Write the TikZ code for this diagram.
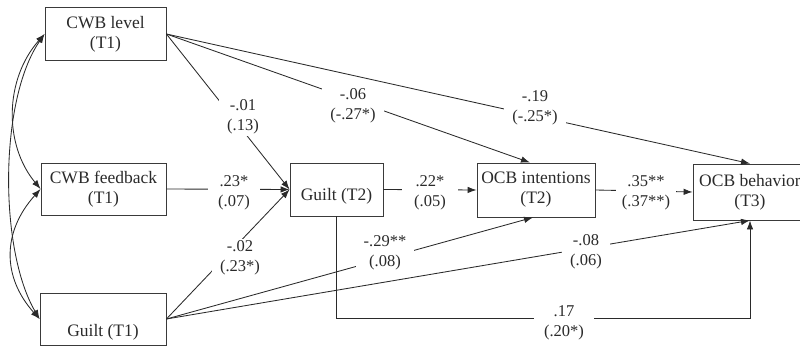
\documentclass[tikz,border=0pt]{standalone}
\usepackage{fontspec}
\setmainfont{Liberation Serif}
\usetikzlibrary{arrows.meta,calc}
\definecolor{ink}{HTML}{2A2A2A}
\definecolor{frame}{HTML}{3A3A3A}
\newcommand{\boxfont}{\fontsize{17.5}{20}\selectfont}
\newcommand{\coeffont}{\fontsize{16.5}{19.5}\selectfont}
\begin{document}
\begin{tikzpicture}[x=1pt,y=-1pt,
  box/.style={draw=frame, line width=0.85pt, inner xsep=1pt, align=center, font=\boxfont, text=ink},
  coef/.style={fill=white, align=center, font=\coeffont, inner xsep=8pt, inner ysep=2pt, text=ink},
  pth/.style={draw=ink, line width=0.85pt, -{Latex[length=9pt,width=6.5pt]}},
  cov/.style={draw=ink, line width=0.85pt, {Latex[length=9pt,width=6.5pt]}-{Latex[length=9pt,width=6.5pt]}}]
\useasboundingbox (0,0) rectangle (800,350);
\node[box, minimum width=121pt, minimum height=53pt] (cwbl) at (105.5,34) {CWB level\\(T1)};
\node[box, minimum width=125pt, minimum height=52pt] (cwbf) at (103.5,189) {CWB feedback\\(T1)};
\node[box, minimum width=126pt, minimum height=52pt, text height=34pt, text depth=0pt] (g1) at (103,319) {Guilt (T1)};
\node[box, minimum width=93pt, minimum height=53pt, text height=21pt, text depth=0pt] (g2) at (336.5,189.5) {Guilt (T2)};
\node[box, minimum width=118pt, minimum height=54pt] (ocbi) at (536,190) {OCB intentions\\(T2)};
\node[box, minimum width=114pt, minimum height=56pt] (ocbb) at (750,192) {OCB behavior\\(T3)};
\coordinate (crn) at (0,318);
% paths
\draw[pth] (cwbl.east) -- (g2.west);
\draw[pth] (cwbf.east) -- (g2.west);
\draw[pth] (g1.east) -- (g2.west);
\draw[pth] (cwbl.east) -- ([xshift=-6pt]ocbi.north);
\draw[pth] (cwbl.east) -- (ocbb.north);
\draw[pth] (g2.east) -- (ocbi.west);
\draw[pth] (ocbi.east) -- (ocbb.west);
\draw[pth] (g1.east) -- ([xshift=-3pt]ocbi.south);
\draw[pth] (g1.east) -- (ocbb.south);
\draw[pth] (g2.south) -- (g2.south |- crn) -- (ocbb.south |- crn) -- (ocbb.south);
% covariances
\draw[cov] (cwbl.west) .. controls (-1,100) and (-1,250) .. (g1.west);
\draw[cov] (cwbl.west) .. controls (4,80) and (4,145) .. (cwbf.west);
\draw[cov] (cwbf.west) .. controls (2,232) and (2,277) .. (g1.west);
% coefficients
\node[coef] (l1) at (243,117) {-.01\\(.13)};
\node[coef, inner xsep=10pt] (l2) at (234,193) {.23*\\(.07)};
\node[coef] (l3) at (240,258) {-.02\\(.23*)};
\node[coef] (l4) at (353,106) {-.06\\(-.27*)};
\node[coef] (l5) at (535,108) {-.19\\(-.25*)};
\node[coef, inner xsep=12pt] (l6) at (430,193) {.22*\\(.05)};
\node[coef, inner xsep=6pt] (l7) at (646,193) {.35**\\(.37**)};
\node[coef] (l8) at (385,253) {-.29**\\(.08)};
\node[coef] (l9) at (586,252) {-.08\\(.06)};
\node[coef, inner xsep=10pt] (l10) at (564,323) {.17\\(.20*)};
\end{tikzpicture}
\end{document}
